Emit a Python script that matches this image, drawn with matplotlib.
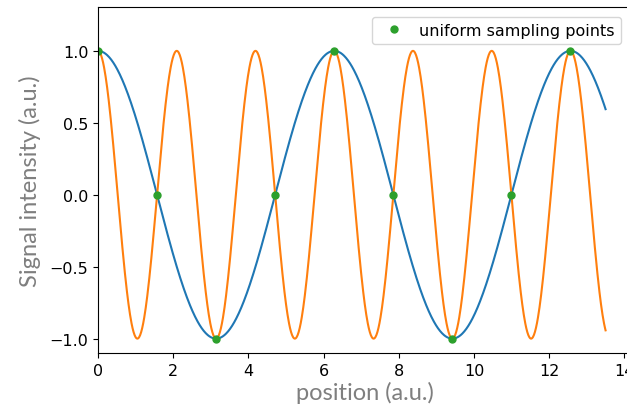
import numpy as np
import matplotlib
matplotlib.use("Agg")
import matplotlib.pyplot as plt

# signal parameters: two cosines sampled on a fine grid
x_end = 13.5
freq_slow = 1.0
freq_fast = 3.0

# uniform sampling positions (multiples of pi/2) and the slow signal's value there
sample_x = [0.0, 1.5708, 3.1416, 4.7124, 6.2832, 7.8540, 9.4248, 10.9956, 12.5664]
sample_y = [1.0, 0.0, -1.0, 0.0, 1.0, 0.0, -1.0, 0.0, 1.0]

x = np.linspace(0, x_end, 1000)

fig = plt.figure(figsize=(6.27, 4.10), dpi=100)
ax = fig.add_axes([0.1563, 0.1366, 0.850, 0.8439])

ax.plot(x, np.cos(freq_slow * x), color="tab:blue", lw=1.5)
ax.plot(x, np.cos(freq_fast * x), color="tab:orange", lw=1.5)
ax.plot(sample_x, sample_y, "o", color="tab:green", markersize=5,
        label="uniform sampling points")

ax.set_xlim(0, 14.175)
ax.set_ylim(-1.1, 1.305)
ax.set_xticks([0, 2, 4, 6, 8, 10, 12, 14])
ax.set_yticks([-1.0, -0.5, 0.0, 0.5, 1.0])
ax.tick_params(labelsize=11.5)

label_font = dict(family="Lato", color="#7f7f7f", fontsize=17)
ax.set_xlabel("position (a.u.)", labelpad=2, **label_font)
ax.set_ylabel("Signal intensity (a.u.)", labelpad=6, **label_font)

ax.legend(loc="upper right", fontsize=11.5, handletextpad=0.6,
          borderaxespad=0.6)

fig.savefig("out.png", dpi=100)
